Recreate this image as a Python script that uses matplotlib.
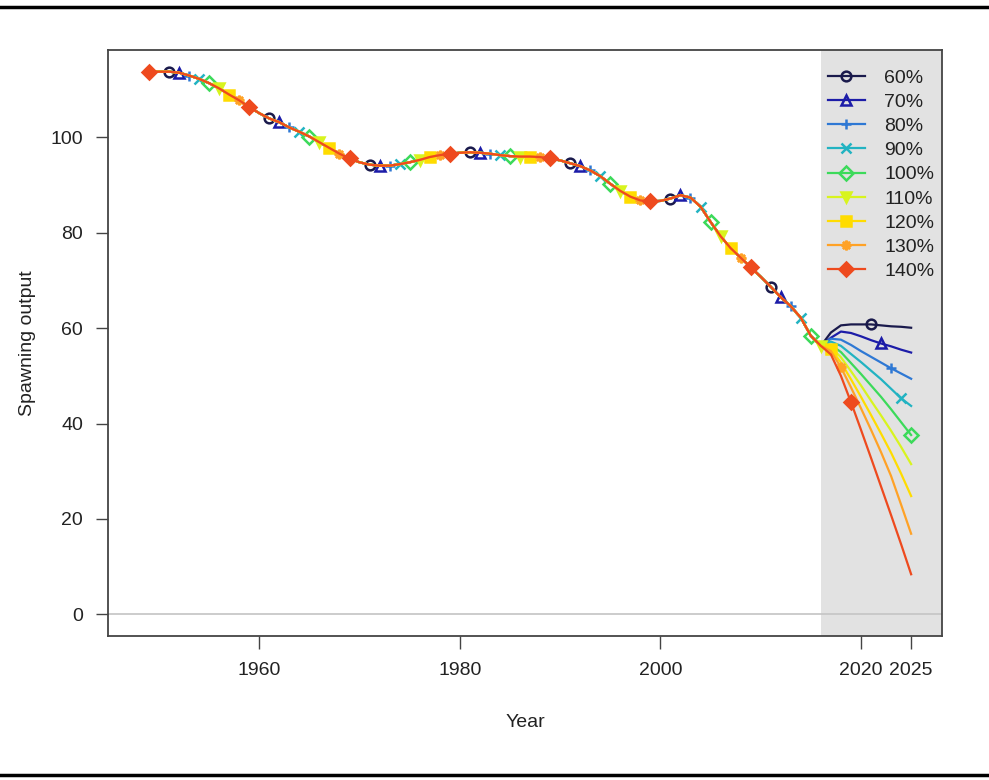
import matplotlib
matplotlib.use('Agg')
import matplotlib.pyplot as plt
from matplotlib.lines import Line2D

plt.rcParams['font.family'] = ['Liberation Sans', 'DejaVu Sans']

labels = ['60%', '70%', '80%', '90%', '100%', '110%', '120%', '130%', '140%']
colors = ['#1A1A4C', '#1C1CA8', '#2E78D4', '#22B3C2', '#3CDA5A',
          '#D8F41E', '#FFDC00', '#FFA226', '#EE4A1E']
markers = ['o', '^', '+', 'x', 'D', 'v', 's', (8, 2, 0), 'D']
filled = [False, False, False, False, False, True, True, True, True]

hist_years = list(range(1949, 2017))
hist = [113.8, 113.8, 113.8, 113.6, 113.0, 112.3, 111.4, 110.3, 109.0, 107.8,
        106.4, 105.1, 104.0, 103.2, 102.1, 101.2, 100.2, 99.0, 97.8, 96.6,
        95.6, 94.8, 94.3, 94.1, 94.1, 94.4, 94.8, 95.3, 95.9, 96.3,
        96.6, 96.8, 96.9, 96.8, 96.6, 96.3, 96.1, 96.0, 96.0, 95.9,
        95.6, 95.2, 94.6, 94.0, 93.1, 91.9, 90.3, 88.8, 87.6, 86.8,
        86.6, 86.7, 87.2, 87.9, 87.4, 85.5, 82.3, 79.3, 76.8, 74.8,
        72.8, 70.8, 68.7, 66.5, 64.6, 62.2, 58.4, 56.3]

proj_years = list(range(2017, 2026))
proj = [
    [59.1, 60.6, 60.8, 60.8, 60.8, 60.6, 60.4, 60.3, 60.1],
    [58.0, 59.3, 59.0, 58.3, 57.5, 56.8, 56.2, 55.5, 54.9],
    [57.8, 57.6, 56.5, 55.2, 54.0, 52.8, 51.6, 50.5, 49.4],
    [57.2, 56.3, 54.6, 52.9, 51.1, 49.3, 47.3, 45.3, 43.7],
    [56.5, 55.0, 52.7, 50.4, 48.0, 45.6, 43.0, 40.3, 37.6],
    [56.0, 53.9, 51.0, 48.0, 44.8, 41.7, 38.5, 35.1, 31.5],
    [55.6, 52.8, 49.3, 45.6, 41.8, 37.9, 33.9, 29.5, 24.8],
    [55.2, 51.8, 47.6, 43.2, 38.7, 34.0, 29.0, 23.0, 16.9],
    [54.5, 50.0, 44.5, 38.7, 32.8, 26.8, 20.8, 14.7, 8.4],
]

fig = plt.figure(figsize=(9.89, 7.8), dpi=100)
ax = fig.add_axes([0.1092, 0.1846, 0.8433, 0.7513])

years = hist_years + proj_years
ax.set_xlim(1944.92, 2028.08)
ax.set_ylim(-4.55, 118.35)

# projection period shading and zero line
ax.axvspan(2016, 2028.08, color='#E2E2E2', zorder=0, lw=0)
ax.axhline(0, color='#C4C4C4', lw=1.2, zorder=1)

handles = []
for k in range(len(labels)):
    vals = hist + proj[k]
    marks = [i for i, y in enumerate(years) if (y - 1951 - k) % 10 == 0]
    face = colors[k] if filled[k] else 'none'
    ax.plot(years, vals, color=colors[k], lw=1.6, marker=markers[k],
            markevery=marks, markersize=7, markeredgewidth=1.8,
            markerfacecolor=face, markeredgecolor=colors[k], zorder=2 + k)
    handles.append(Line2D([], [], color=colors[k], lw=1.6, marker=markers[k],
                          markersize=7, markeredgewidth=1.8,
                          markerfacecolor=face, markeredgecolor=colors[k]))

ax.legend(handles, labels, loc='upper right', bbox_to_anchor=(1.0, 0.981),
          frameon=False, fontsize=14, handlelength=1.9, handletextpad=1.0,
          labelspacing=0.34, borderaxespad=0.0, labelcolor='#222222')

ax.set_xticks([1960, 1980, 2000, 2020, 2025])
ax.set_yticks([0, 20, 40, 60, 80, 100])
ax.tick_params(axis='both', labelsize=14, length=9, width=1, color='#444444',
               labelcolor='#222222')
ax.tick_params(axis='x', pad=10)
ax.tick_params(axis='y', pad=9)
for s in ax.spines.values():
    s.set_color('#444444')
    s.set_linewidth(1.3)

ax.set_xlabel('Year', fontsize=14, color='#222222', labelpad=25)
ax.set_ylabel('Spawning output', fontsize=14, color='#222222', labelpad=10)

fig.add_artist(Line2D([0, 1], [0.991, 0.991], color='black', lw=2.5,
                      transform=fig.transFigure))
fig.add_artist(Line2D([0, 1], [0.006, 0.006], color='black', lw=2.5,
                      transform=fig.transFigure))

fig.savefig('out.png', dpi=100)
